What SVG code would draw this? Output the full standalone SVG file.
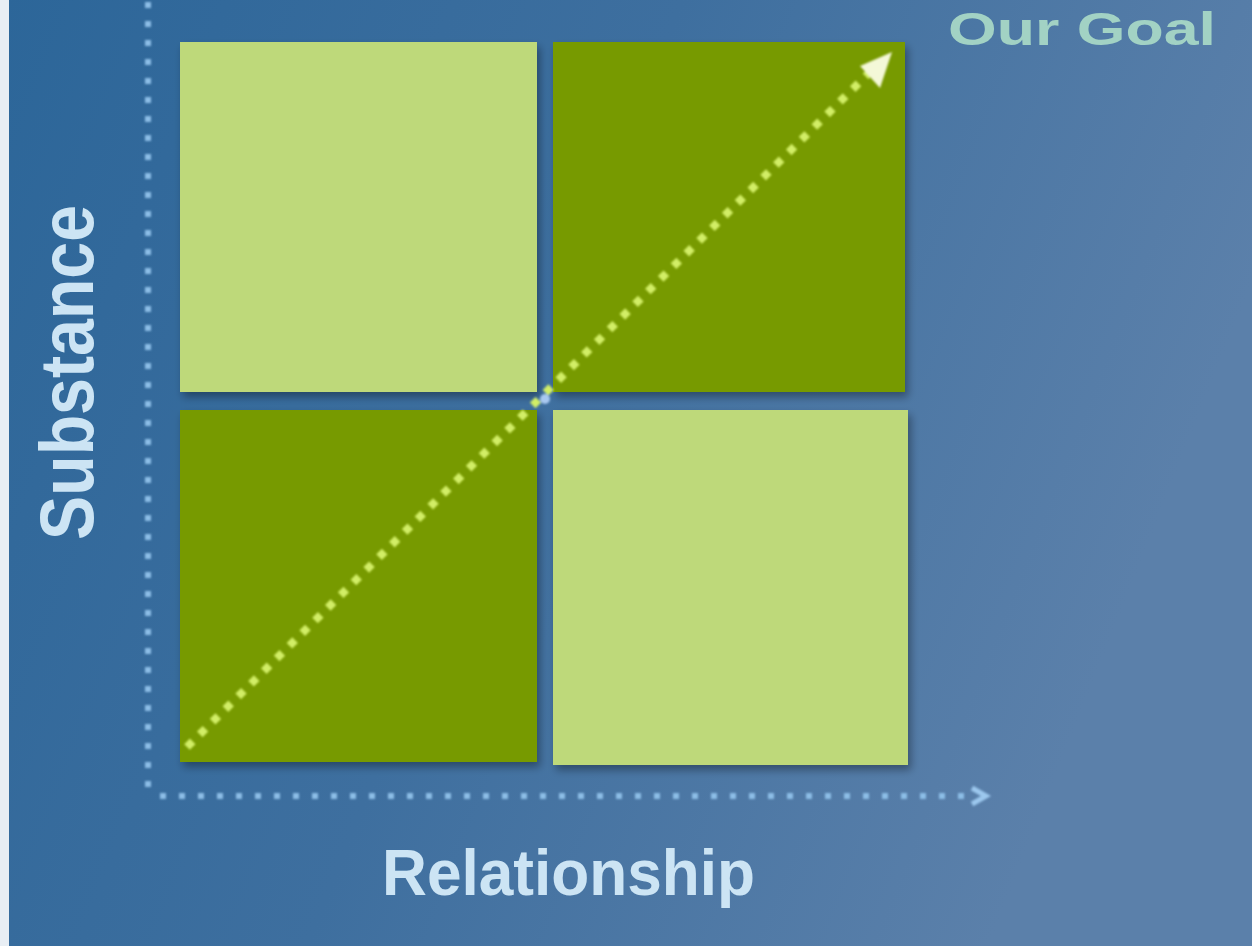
<svg xmlns="http://www.w3.org/2000/svg" width="1252" height="946" viewBox="0 0 1252 946">
<defs>
<linearGradient id="bg" x1="0" y1="0" x2="1" y2="0.3">
<stop offset="0" stop-color="#2c6699"/>
<stop offset="0.5" stop-color="#3e6f9f"/>
<stop offset="1" stop-color="#5b80aa"/>
</linearGradient>
<filter id="sh" x="-5%" y="-5%" width="110%" height="110%">
<feGaussianBlur in="SourceAlpha" stdDeviation="4"/>
<feOffset dx="3" dy="5"/>
<feComponentTransfer><feFuncA type="linear" slope="0.35"/></feComponentTransfer>
<feMerge><feMergeNode/><feMergeNode in="SourceGraphic"/></feMerge>
</filter>
<filter id="blur1"><feGaussianBlur stdDeviation="0.8"/></filter>
</defs>
<style>
.light{fill:#bed97a;}
.dark{fill:#779a02;}
.axis{fill:none;stroke:#8cbde6;stroke-width:6;stroke-dasharray:6 13;}
.diag{fill:none;stroke:#d2ee66;stroke-width:8;stroke-dasharray:8 10;}
.lbl{font-family:"Liberation Sans",Arial,sans-serif;font-weight:bold;fill:#cce4f4;}
</style>
<rect width="1252" height="946" fill="url(#bg)"/>
<rect x="0" y="0" width="9" height="946" fill="#e8eef4"/>
<g id="q-top-left" filter="url(#sh)"><rect class="light" x="180" y="42" width="357" height="350"/></g>
<g id="q-top-right" filter="url(#sh)"><rect class="dark" x="553" y="42" width="352" height="350"/></g>
<g id="q-bottom-left" filter="url(#sh)"><rect class="dark" x="180" y="410" width="357" height="352"/></g>
<g id="q-bottom-right" filter="url(#sh)"><rect class="light" x="553" y="410" width="355" height="355"/></g>
<g id="connectors" filter="url(#blur1)">
<line class="axis" x1="148" y1="2" x2="148" y2="788"/>
<line class="axis" x1="160" y1="796" x2="972" y2="796"/>
<polyline points="972,788 986,796 972,804" fill="none" stroke="#9cc8ee" stroke-width="5"/>
<line class="diag" x1="187" y1="747" x2="870" y2="72"/>
<polygon points="892,52 880,88 860,66" fill="#f4f8d8"/>
<circle cx="545" cy="399" r="5" fill="#a8c8f0"/>
</g>
<g id="label-goal"><text class="lbl" x="948" y="45" font-size="46" textLength="268" lengthAdjust="spacingAndGlyphs" style="fill:#a2d2c4">Our Goal</text></g>
<g id="label-substance"><text class="lbl" transform="translate(93,540) rotate(-90)" x="0" y="0" font-size="76" textLength="335" lengthAdjust="spacingAndGlyphs">Substance</text></g>
<g id="label-relationship"><text class="lbl" x="382" y="895" font-size="64" textLength="373" lengthAdjust="spacingAndGlyphs">Relationship</text></g>
</svg>
